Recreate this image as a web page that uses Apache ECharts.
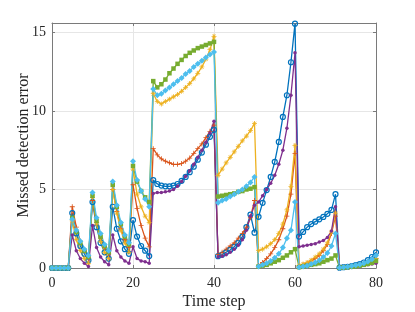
<!DOCTYPE html>
<html>
<head>
<meta charset="utf-8">
<script src="https://cdn.jsdelivr.net/npm/echarts@6/dist/echarts.min.js"></script>
<style>html,body{margin:0;padding:0;background:#fff}#c{width:415px;height:312px}</style>
</head>
<body>
<div id="c"></div>
<script>
// time steps 0..80
var timeSteps = [];
for (var i = 0; i <= 80; i++) timeSteps.push(i);

var xTicks = [0, 20, 40, 60, 80];
var yTicks = [0, 5, 10, 15];

var seriesBlue = [0,0,0,0,0,
  3.5,2.2,1.4,0.9,0.5,
  4.2,2.6,1.6,1.0,0.6,
  3.9,2.5,1.7,1.2,0.9,
  3.05,2.0,1.4,1.1,0.76,
  5.6,5.35,5.25,5.2,5.2,5.25,5.35,5.55,5.8,6.1,6.45,6.9,7.35,7.85,8.35,8.8,
  0.75,0.85,1.0,1.15,1.35,1.6,2.0,2.6,3.4,
  2.25,3.26,4.15,4.96,5.8,6.76,8.03,9.62,11.0,13.1,15.56,
  2.0,2.3,2.6,2.8,2.95,3.1,3.25,3.45,3.7,4.7,
  0.02,0.05,0.08,0.12,0.18,0.25,0.35,0.5,0.7,1.0];

var seriesOrange = [0,0,0,0,0,
  3.9,2.6,1.7,1.1,0.7,
  4.3,2.9,1.9,1.3,0.9,
  5.0,3.6,2.5,1.8,1.3,
  5.3,3.8,2.7,1.9,1.35,
  7.6,7.2,6.95,6.8,6.7,6.6,6.6,6.65,6.8,7.0,7.3,7.6,7.9,8.3,8.7,9.1,
  0.85,1.0,1.2,1.4,1.6,1.9,2.2,2.6,3.2,4.3,
  0.15,0.35,0.6,0.9,1.3,1.8,2.5,3.3,4.7,7.3,
  0.1,0.2,0.3,0.45,0.6,0.8,1.1,1.5,2.2,3.3,
  0.02,0.04,0.07,0.1,0.15,0.2,0.27,0.35,0.45,0.6];

var seriesYellow = [0,0,0,0,0,
  3.0,1.8,1.1,0.6,0.3,
  4.5,2.8,1.7,1.0,0.6,
  5.0,3.5,2.4,1.6,1.0,
  6.3,4.7,3.9,3.3,2.9,
  11.1,10.6,10.45,10.6,10.75,10.9,11.05,11.25,11.5,11.75,12.05,12.4,12.8,13.3,13.9,14.75,
  5.9,6.3,6.7,7.05,7.4,7.75,8.1,8.4,8.75,9.2,
  1.1,1.2,1.35,1.55,1.8,2.2,2.8,3.7,5.2,7.8,
  0.15,0.25,0.35,0.5,0.7,0.9,1.2,1.6,2.3,3.5,
  0.02,0.04,0.07,0.1,0.15,0.2,0.28,0.37,0.48,0.62];

var seriesPurple = [0,0,0,0,0,
  2.1,1.1,0.6,0.3,0.1,
  2.7,1.3,0.7,0.4,0.2,
  2.1,1.1,0.7,0.45,0.3,
  1.35,0.6,0.45,0.4,0.3,
  4.75,4.8,4.8,4.85,4.9,5.0,5.2,5.5,5.85,6.2,6.6,7.05,7.5,8.0,8.6,9.35,
  0.7,0.75,0.85,1.0,1.2,1.45,1.8,2.4,3.3,
  4.0,4.2,4.6,5.0,5.4,5.9,6.6,7.5,8.9,11.0,13.7,
  1.35,1.4,1.45,1.5,1.55,1.65,1.75,1.95,2.35,3.9,
  0.02,0.03,0.05,0.07,0.1,0.13,0.17,0.2,0.25,0.3];

var seriesGreen = [0,0,0,0,0,
  3.2,2.3,1.6,1.1,0.7,
  4.6,3.0,2.0,1.4,1.0,
  5.3,3.9,2.8,2.0,1.5,
  6.5,5.5,4.9,4.5,4.2,
  11.9,11.5,11.7,12.0,12.4,12.7,13.0,13.25,13.5,13.7,13.85,14.0,14.1,14.2,14.3,14.4,
  4.55,4.6,4.65,4.7,4.75,4.85,4.9,5.0,5.05,5.15,
  0.1,0.15,0.2,0.3,0.4,0.5,0.65,0.8,1.0,1.2,
  0.05,0.1,0.15,0.2,0.25,0.3,0.4,0.5,0.6,0.8,
  0.02,0.03,0.05,0.08,0.11,0.15,0.2,0.26,0.33,0.45];

var seriesLightBlue = [0,0,0,0,0,
  3.1,2.4,1.7,1.2,0.8,
  4.8,3.2,2.2,1.5,1.1,
  5.5,4.0,2.9,2.1,1.6,
  6.8,5.6,4.9,4.4,3.9,
  11.4,11.0,11.1,11.3,11.5,11.7,11.9,12.1,12.35,12.55,12.8,13.0,13.2,13.4,13.6,13.75,
  4.15,4.3,4.4,4.55,4.7,4.85,5.0,5.2,5.45,5.8,
  0.1,0.2,0.3,0.45,0.65,0.9,1.3,1.9,2.4,4.2,
  0.05,0.1,0.15,0.25,0.35,0.5,0.7,0.95,1.4,2.2,
  0.02,0.05,0.08,0.12,0.17,0.23,0.31,0.42,0.56,0.8];

function pairs(vals) { return vals.map(function (v, i) { return [timeSteps[i], v]; }); }

var FONT = 'Liberation Serif';
var plusPath = 'path://M-0.5,-3H0.5V-0.5H3V0.5H0.5V3H-0.5V0.5H-3V-0.5H-0.5Z';
var starPath = 'path://M-0.45,-3H0.45V-0.9L2.1,-2.5L2.5,-2.1L0.9,-0.45H3V0.45H0.9L2.5,2.1L2.1,2.5L0.45,0.9V3H-0.45V0.9L-2.1,2.5L-2.5,2.1L-0.9,0.45H-3V-0.45H-0.9L-2.5,-2.1L-2.1,-2.5L-0.9,-0.9Z';

function mk(vals, color, symbol, size, extra) {
  var s = {
    type: 'line', data: pairs(vals), xAxisIndex: 0, yAxisIndex: 0,
    symbol: symbol, symbolSize: size, showSymbol: true,
    lineStyle: { color: color, width: 1.3 },
    itemStyle: { color: color, borderWidth: 0 },
    animation: false
  };
  if (extra) for (var k in extra) s[k] = extra[k];
  return s;
}

var axisColor = '#7a7a7a';
var option = {
  backgroundColor: '#fff',
  animation: false,
  grid: { left: 52, right: 39, top: 23, bottom: 44, containLabel: false, outerBoundsMode: 'none' },
  xAxis: [{
    type: 'value', min: xTicks[0], max: xTicks[xTicks.length - 1], interval: 20,
    position: 'bottom',
    name: 'Time step', nameLocation: 'middle', nameGap: 26, nameMoveOverlap: false,
    nameTextStyle: { fontFamily: FONT, fontSize: 16, color: '#262626' },
    axisLine: { show: true, onZero: false, lineStyle: { color: axisColor, width: 1 } },
    axisTick: { show: true, inside: true, length: 3, lineStyle: { color: axisColor } },
    axisLabel: { fontFamily: FONT, fontSize: 14, color: '#262626', margin: 8 },
    splitLine: { show: true, lineStyle: { color: '#e6e6e6', width: 1 } }
  }, {
    type: 'value', min: 0, max: 80, interval: 20, position: 'top',
    axisLine: { show: true, onZero: false, lineStyle: { color: axisColor, width: 1 } },
    axisTick: { show: true, inside: true, length: 3, lineStyle: { color: axisColor } },
    axisLabel: { show: false }, splitLine: { show: false }
  }],
  yAxis: [{
    type: 'value', min: yTicks[0], max: 15.6, interval: 5,
    position: 'left',
    name: 'Missed detection error', nameLocation: 'middle', nameGap: 20, nameMoveOverlap: false,
    nameTextStyle: { fontFamily: FONT, fontSize: 16, color: '#262626' },
    axisLine: { show: true, onZero: false, lineStyle: { color: axisColor, width: 1 } },
    axisTick: { show: true, inside: true, length: 3, lineStyle: { color: axisColor } },
    axisLabel: { fontFamily: FONT, fontSize: 14, color: '#262626', margin: 6, showMaxLabel: false },
    splitLine: { show: true, lineStyle: { color: '#e6e6e6', width: 1 } }
  }, {
    type: 'value', min: 0, max: 15.6, interval: 5, position: 'right',
    axisLine: { show: true, onZero: false, lineStyle: { color: axisColor, width: 1 } },
    axisTick: { show: true, inside: true, length: 3, lineStyle: { color: axisColor } },
    axisLabel: { show: false }, splitLine: { show: false }
  }],
  series: [
    mk(seriesBlue, '#0072BD', 'circle', 5, { itemStyle: { color: 'rgba(255,255,255,0)', borderColor: '#0072BD', borderWidth: 1.2 } }),
    mk(seriesOrange, '#D95319', plusPath, 5),
    mk(seriesYellow, '#EDB120', starPath, 5),
    mk(seriesPurple, '#7E2F8E', 'circle', 3.5),
    mk(seriesGreen, '#77AC30', 'rect', 4.5),
    mk(seriesLightBlue, '#4DBEEE', 'diamond', 6)
  ]
};

var chart = echarts.init(document.getElementById('c'), null, { renderer: 'canvas' });
chart.setOption(option);
</script>
</body>
</html>
